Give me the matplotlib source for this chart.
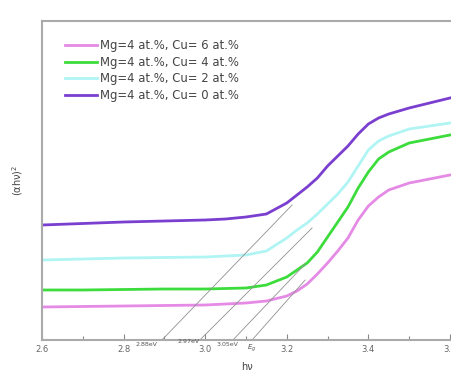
from matplotlib import pyplot as plt
import numpy as np

# photon energy (eV)
hv = [2.6, 2.7, 2.8, 2.9, 3.0, 3.05, 3.1, 3.15, 3.2, 3.225, 3.25, 3.275, 3.3,
      3.325, 3.35, 3.375, 3.4, 3.425, 3.45, 3.5, 3.55, 3.6]

# (alpha h nu)^2, arbitrary units
cu6 = [33, 33.5, 34, 34.5, 35, 36, 37, 39, 44, 49, 56, 66, 77,
       89, 102, 120, 134, 143, 150, 157, 161, 165]
cu4 = [50, 50, 50.5, 51, 51, 51.5, 52, 55, 63, 70, 77, 88, 103,
       118, 133, 152, 168, 181, 188, 197, 201, 205]
cu2 = [80, 81, 82, 82.5, 83, 84, 85, 89, 102, 110, 117, 126, 136,
       146, 158, 174, 190, 199, 204, 211, 214, 217]
cu0 = [115, 116.5, 118, 119, 120, 121, 123, 126, 137, 145, 153, 162, 174,
       184, 194, 206, 216, 222, 226, 232, 237, 242]

labels = ['Mg=4 at.%, Cu= 6 at.%', 'Mg=4 at.%, Cu= 4 at.%',
          'Mg=4 at.%, Cu= 2 at.%', 'Mg=4 at.%, Cu= 0 at.%']
colors = ['#e58ae5', '#3ddc3d', '#b0f4f4', '#7b3fd0']

# tangent lines: x-intercept and upper end
tan_x0 = [2.894, 2.987, 3.068, 3.115]
tan_x1 = [3.213, 3.262, 3.245, 3.245]
tan_y1 = [135, 112, 76, 60]
eg_text = ['2.88eV', '2.97eV', '3.05eV']

fig = plt.figure(figsize=(4.52, 3.81), dpi=100)
ax = fig.add_axes([42/452, 41/381, 410/452, 319/381])

for y, lab, c in zip([cu6, cu4, cu2, cu0], labels, colors):
    ax.plot(hv, y, color=c, lw=2.0, label=lab)

for x0, x1, y1 in zip(tan_x0, tan_x1, tan_y1):
    ax.plot([x0, x1], [0, y1], color='#909090', lw=0.6)

ax.text(2.856, -2, eg_text[0], fontsize=4.5, ha='center', va='top', color='#555555')
ax.text(2.96, 1, eg_text[1], fontsize=4.5, ha='center', va='top', color='#555555')
ax.text(3.055, -2, eg_text[2], fontsize=4.5, ha='center', va='top', color='#555555')
ax.text(3.115, -3, r'$E_g$', fontsize=5, ha='center', va='top', color='#555555')

ax.set_xlim(2.6, 3.605)
ax.set_ylim(0, 319)
ax.set_xticks([2.6, 2.8, 3.0, 3.2, 3.4, 3.6])
ax.set_xticks([2.7, 2.9, 3.1, 3.3, 3.5], minor=True)
ax.set_yticks([])
ax.tick_params(axis='x', which='both', direction='in', colors='#888888',
               labelcolor='#666666', labelsize=6, width=0.8)
ax.tick_params(axis='x', which='major', length=4)
ax.tick_params(axis='x', which='minor', length=3)
ax.spines['right'].set_color('none')
for s in ['left', 'top', 'bottom']:
    ax.spines[s].set_color('#aaaaaa')
    ax.spines[s].set_linewidth(1.5)

ax.set_xlabel('h\u03bd', fontsize=7, color='#444444', labelpad=6)
ax.set_ylabel('(\u03b1h\u03bd)$^2$', fontsize=7, color='#444444', labelpad=12)

leg = ax.legend(loc='upper left', bbox_to_anchor=(0.03, 0.975), frameon=False,
                fontsize=8.4, handlelength=2.8, labelspacing=0.3, handletextpad=0.2)
for t in leg.get_texts():
    t.set_color('#444444')

fig.savefig('out.png', dpi=100)
